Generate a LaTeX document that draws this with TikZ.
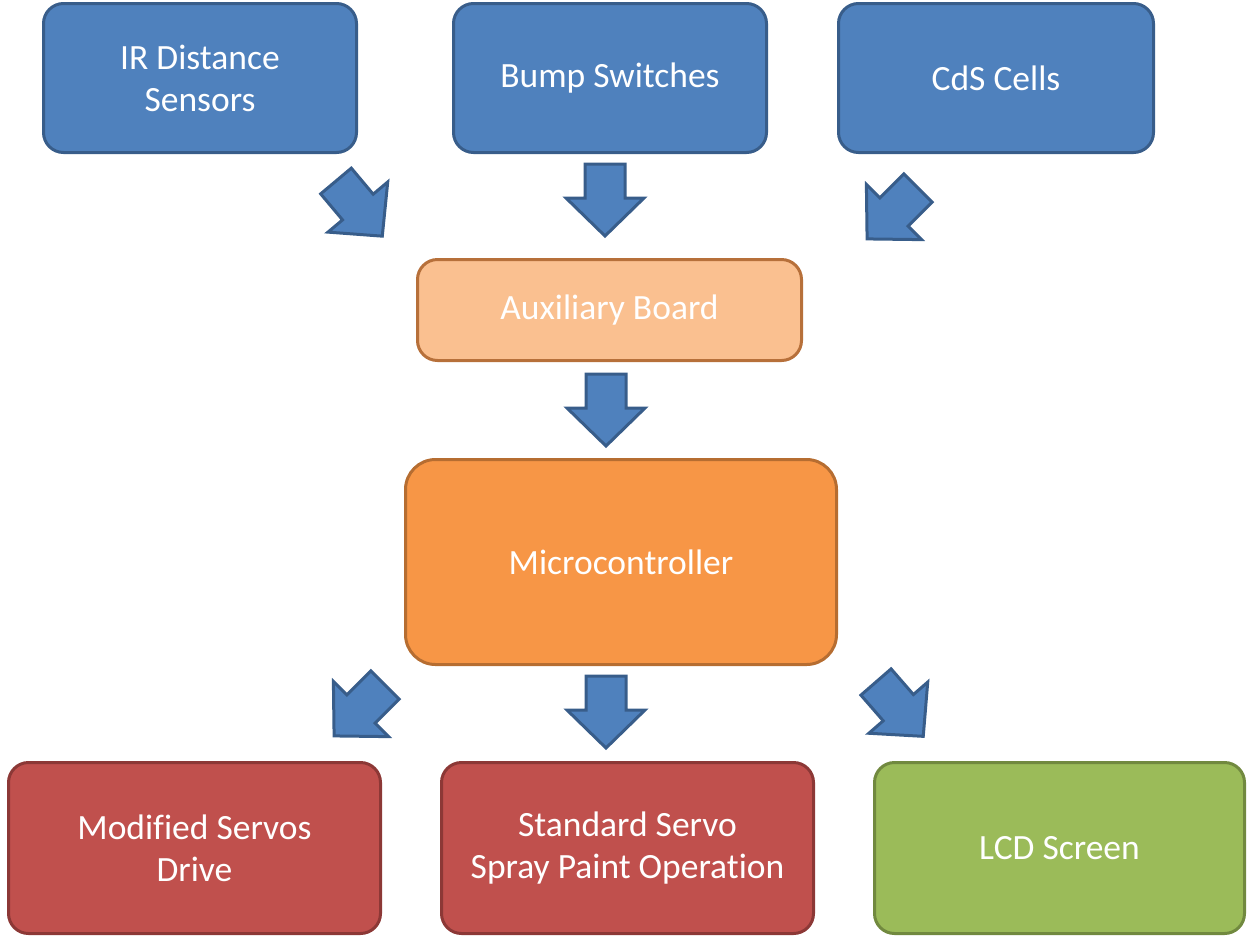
\documentclass[tikz,border=0pt]{standalone}
\usepackage{fontspec}
\setmainfont[Ligatures=NoCommon]{Carlito}
\begin{document}
\begin{tikzpicture}[x=1pt,y=-1pt,
  box/.style={draw, line width=3pt, rounded corners=20pt, text=white,
    font=\fontsize{35.5}{42}\selectfont, align=center, inner sep=0pt},
  blue box/.style={box, fill=blueF, draw=blueD},
  aux box/.style={box, fill=auxF, draw=auxD},
  mc box/.style={box, fill=mcF, draw=mcD, rounded corners=30pt},
  red box/.style={box, fill=redF, draw=redD},
  green box/.style={box, fill=greenF, draw=greenD},
  barrow/.pic={\draw[fill=blueF, draw=blueD, line width=3pt, line join=miter]
     (0,-20) -- (34,-20) -- (34,-39) -- (72,0) -- (34,39) -- (34,20) -- (0,20) -- cycle;}
]
\definecolor{blueF}{HTML}{4F81BD}
\definecolor{blueD}{HTML}{385D8A}
\definecolor{auxF}{HTML}{FAC090}
\definecolor{auxD}{HTML}{B7703A}
\definecolor{mcF}{HTML}{F79646}
\definecolor{mcD}{HTML}{B66D31}
\definecolor{redF}{HTML}{C0504D}
\definecolor{redD}{HTML}{8C3836}
\definecolor{greenF}{HTML}{9BBB59}
\definecolor{greenD}{HTML}{71893F}
\useasboundingbox (0,0) rectangle (1248,938);

\node[blue box, minimum width=313pt, minimum height=149pt] (ir) at (200,78) {IR Distance\\Sensors};
\node[blue box, minimum width=313pt, minimum height=149pt] (bump) at (610,78) {Bump Switches};
\node[blue box, minimum width=315pt, minimum height=149pt] (cds) at (996,78) {CdS Cells};
\node[aux box, minimum width=384pt, minimum height=101pt] (aux) at (609.5,310) {Auxiliary Board};
\node[mc box, minimum width=431pt, minimum height=205pt] (mc) at (621,562) {Microcontroller};
\node[red box, minimum width=372pt, minimum height=171pt] (mod) at (194.5,848) {Modified Servos\\Drive};
\node[red box, minimum width=372pt, minimum height=171pt] (std) at (627.5,848) {Standard Servo\\Spray Paint Operation};
\node[green box, minimum width=370pt, minimum height=171pt] (lcd) at (1059.5,848) {LCD Screen};

\pic[shift={(336,181)}, rotate=-50] {barrow};
\pic[shift={(605,164)}, rotate=-90] {barrow};
\pic[shift={(918,188)}, rotate=-135] {barrow};
\pic[shift={(606,374)}, rotate=-90] {barrow};
\pic[shift={(385,685)}, rotate=-135] {barrow};
\pic[shift={(606,676)}, rotate=-90] {barrow};
\pic[shift={(876,682)}, rotate=-49] {barrow};
\end{tikzpicture}
\end{document}
